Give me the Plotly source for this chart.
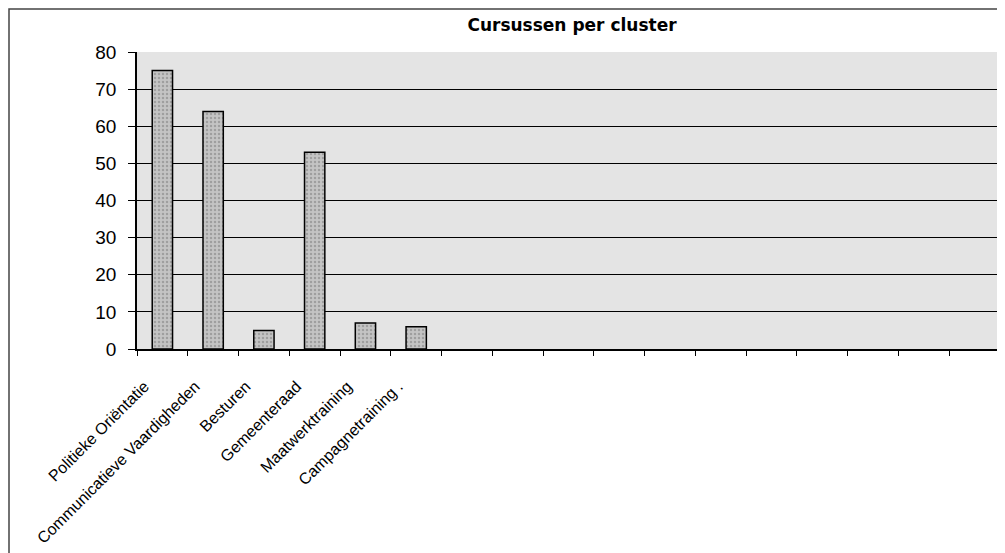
import plotly.graph_objects as go

# ---- data ----
categories = ["Politieke Oriëntatie", "Communicatieve Vaardigheden", "Besturen",
              "Gemeenteraad", "Maatwerktraining", "Campagnetraining ."]
values = [75, 64, 5, 53, 7, 6]
n_slots = 17  # total category slots shown on the x axis (rest are empty)
y_ticks = [0, 10, 20, 30, 40, 50, 60, 70, 80]
title = "Cursussen per cluster"

# empty placeholder slots (unique blank labels)
blanks = [" " * (i + 1) for i in range(n_slots - len(categories))]
x_all = categories + blanks
y_all = values + [None] * len(blanks)

W, H = 1005, 553
L, R, T, B = 129, 13, 44, 212
pw, ph = W - L - R, H - T - B

fig = go.Figure()
fig.add_trace(go.Bar(
    x=x_all, y=y_all, width=0.4,
    marker=dict(color="#b5b5b5", line=dict(color="black", width=1.5),
                pattern=dict(shape=".", fgcolor="#7a7a7a", bgcolor="#c4c4c4", size=4, solidity=0.3)),
))

fig.update_layout(
    width=W, height=H,
    margin=dict(l=L, r=R, t=T, b=B, autoexpand=False),
    paper_bgcolor="white",
    plot_bgcolor="#e4e4e4",
    showlegend=False,
    title=dict(text="<b>" + title + "</b>", x=564 / W, xanchor="center",
               y=1 - 17 / H, yanchor="middle",
               font=dict(family="DejaVu Sans", size=17, color="black")),
    font=dict(family="Liberation Sans", color="black"),
    bargap=0.6,
)
fig.update_xaxes(
    type="category", categoryorder="array", categoryarray=x_all,
    range=[-0.5, n_slots - 0.5], automargin=False,
    tickson="boundaries", ticks="outside", ticklen=5, tickcolor="black",
    tickangle=-45, tickfont=dict(size=16, family="Liberation Sans"),
    ticklabelshift=-18, ticklabelstandoff=20,
    showline=True, linecolor="black", linewidth=1.5, showgrid=False,
)
fig.update_yaxes(
    range=[0, 80], tickvals=y_ticks, ticks="outside", ticklen=7, tickcolor="black",
    tickfont=dict(size=19, family="Liberation Sans"), automargin=False,
    ticklabelstandoff=8,
    showline=True, linecolor="black", linewidth=1.5,
    showgrid=True, gridcolor="black", gridwidth=1, zeroline=False,
)

# outer chart frame (left/top edges of the figure box)
fig.add_shape(type="rect", xref="paper", yref="paper",
              x0=(1 - L) / pw, x1=(995 - L) / pw,
              y0=-(H + 10 - T - ph) / ph,
              y1=(T + ph - 1) / ph,
              line=dict(color="#444444", width=1.5), fillcolor="rgba(0,0,0,0)", layer="below")

fig.write_html("out.html")
